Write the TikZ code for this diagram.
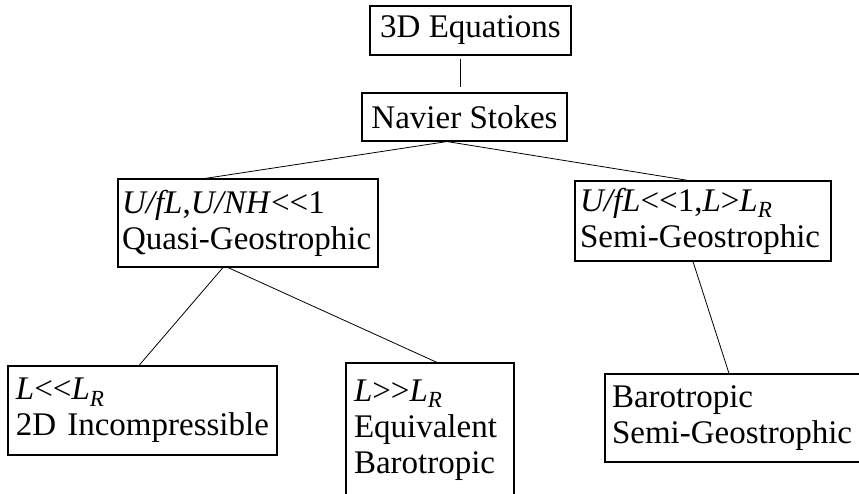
\documentclass[tikz,border=0pt]{standalone}
\usepackage{fontspec}
\setmainfont{Liberation Serif}[Ligatures=TeXOff]

\begin{document}
\begin{tikzpicture}[
       x=1pt, y=-1pt,
       font=\fontsize{33}{36}\selectfont,
       box/.style={draw, line width=1.1pt, inner xsep=6pt, inner ysep=0pt, align=left},
       link/.style={line width=0.8pt}
   ]
   \useasboundingbox (0,0) rectangle (859,494);

   % top of the tree
   \node[box, align=center, minimum width=201pt, minimum height=49pt] (eqs) at (470.5,30.5) {3D Equations};
   \node[box, align=center, minimum width=205pt, minimum height=48pt] (ns) at (464.5,117) {Navier Stokes};

   % second row
   \node[box, inner xsep=4pt, text width=252pt, minimum height=88pt] (qg) at (248,223)
       {\textit{U/fL},\textit{U/NH}<\kern0pt<1\\Quasi-Geostrophic};
   \node[box, inner xsep=5pt, text width=246pt, minimum height=80pt] (sg) at (703,221)
       {\textit{U/fL}<\kern0pt<1,\textit{L}>\textit{L}\textsubscript{\textit{R}}\\Semi-Geostrophic};

   % bottom row
   \node[box, inner xsep=8pt, text width=253pt, minimum height=89pt] (inc) at (142.5,410.5)
       {\textit{L}<\kern0pt<\textit{L}\textsubscript{\textit{R}}\\2D Incompressible};
   \node[box, inner xsep=8pt, text width=152pt, minimum height=134pt] (eb) at (430,430)
       {\textit{L}>\kern0pt>\textit{L}\textsubscript{\textit{R}}\\Equivalent\\Barotropic};
   \node[box, inner xsep=7pt, text width=251pt, minimum height=88pt] (bsg) at (737.5,418)
       {Barotropic\\Semi-Geostrophic};

   \draw[link, shorten <=3pt, shorten >=5pt] ([xshift=-10.5pt]eqs.south) -- ([xshift=-4.5pt]ns.north);
   \draw[link] ([xshift=-17.5pt]ns.south) -- ([xshift=-43pt]qg.north);
   \draw[link] ([xshift=-17.5pt]ns.south) -- ([xshift=-15pt]sg.north);
   \draw[link] ([xshift=-25pt]qg.south) -- ([xshift=-3.5pt]inc.north);
   \draw[link] ([xshift=-20pt]qg.south) -- ([xshift=7pt]eb.north);
   \draw[link] ([xshift=-10pt]sg.south) -- ([xshift=-8.5pt]bsg.north);
   \end{tikzpicture}
\end{document}
